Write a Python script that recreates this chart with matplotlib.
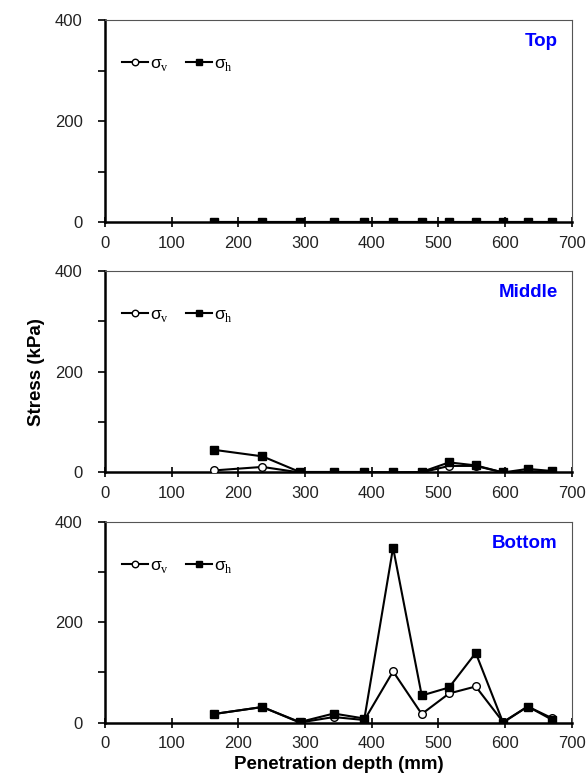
import matplotlib
matplotlib.use("Agg")
import matplotlib.pyplot as plt
from matplotlib.ticker import MultipleLocator

plt.rcParams['font.family'] = ['Liberation Sans', 'DejaVu Sans']
plt.rcParams['mathtext.fontset'] = 'custom'
plt.rcParams['mathtext.rm'] = 'Liberation Serif'

# penetration depth (mm)
depth = [163, 236, 292, 343, 389, 432, 475, 516, 556, 597, 634, 670]

# stresses (kPa) at each location
top_v = [0, 0, 0, 0, 0, 0, 0, 0, 0, 0, 0, 0]
top_h = [0, 0, 0, 0, 0, 0, 0, 0, 0, 0, 0, 0]
mid_v = [4, 11, 0, 0, 0, 0, 0, 13, 13, 0, 2, 3]
mid_h = [45, 32, 1, 1, 1, 0, 1, 20, 14, 0, 7, 3]
bot_v = [17, 31, 0, 11, 5, 102, 17, 58, 72, 1, 32, 9]
bot_h = [17, 31, 1, 18, 8, 349, 54, 70, 139, 0, 32, 6]

panels = ["Top", "Middle", "Bottom"]
vals_v = [top_v, mid_v, bot_v]
vals_h = [top_h, mid_h, bot_h]

fig = plt.figure(figsize=(5.87, 7.83), dpi=100)
boxes = [(0.179, 0.716, 0.795, 0.2586),
         (0.179, 0.3966, 0.795, 0.2573),
         (0.179, 0.0772, 0.795, 0.256)]

for name, sv, sh, box in zip(panels, vals_v, vals_h, boxes):
    ax = fig.add_axes(box)
    ax.plot(depth, sv, '-o', color='black', mfc='white', mec='black',
            ms=5.5, lw=1.5, label='σ$_\\mathrm{v}$', zorder=3)
    ax.plot(depth, sh, '-s', color='black', ms=5.5, lw=1.5,
            label='σ$_\\mathrm{h}$', zorder=4)
    ax.set_xlim(0, 700)
    ax.set_ylim(0, 400)
    ax.xaxis.set_major_locator(MultipleLocator(100))
    ax.yaxis.set_major_locator(MultipleLocator(200))
    ax.yaxis.set_minor_locator(MultipleLocator(100))
    ax.tick_params(axis='x', direction='inout', length=7, width=1.2,
                   labelsize=12, pad=6, labelcolor='#222222')
    ax.tick_params(axis='y', which='both', direction='out', length=5,
                   width=1.2, labelsize=12, pad=11, labelcolor='#222222')
    for s in ['left', 'bottom']:
        ax.spines[s].set_linewidth(1.8)
    for s in ['top', 'right']:
        ax.spines[s].set_linewidth(0.8)
        ax.spines[s].set_color('#555555')
    ax.text(0.97, 0.935, name, transform=ax.transAxes, ha='right', va='top',
            color='blue', fontsize=13.5, fontweight='bold')
    ax.legend(loc='upper left', ncol=2, frameon=False, handlelength=1.5,
              handletextpad=0.1, columnspacing=1.0, fontsize=12.5,
              markerscale=0.85, bbox_to_anchor=(0.01, 0.88), borderaxespad=0.3)
    if name == "Middle":
        ax.set_ylabel("Stress (kPa)", fontsize=13.5, fontweight='bold',
                      labelpad=7)
    if name == "Bottom":
        ax.set_xlabel("Penetration depth (mm)", fontsize=13.5,
                      fontweight='bold', labelpad=4)

fig.savefig("out.png", dpi=100)
